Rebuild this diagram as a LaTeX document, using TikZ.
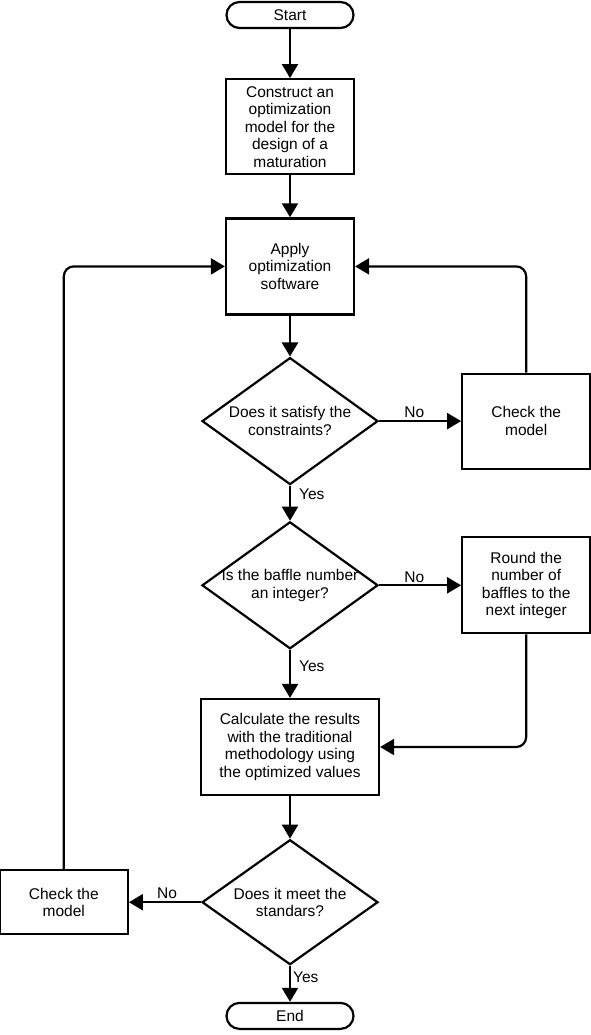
\documentclass[tikz,border=0pt]{standalone}
\usepackage{fontspec}
\setmainfont{Liberation Sans}
\usepackage{tikz}
\usetikzlibrary{arrows.meta,positioning,shapes.geometric}
\definecolor{fcedge}{RGB}{0,0,0}
\newcommand{\fcfont}{\fontsize{15.5}{17.5}\selectfont}
\tikzset{
  fcbox/.style={
    draw=fcedge, line width=2.2pt, align=center, inner sep=2pt,
    font=\fcfont
  },
  term/.style={fcbox, rounded corners=13pt, minimum width=127pt, minimum height=26pt},
  proc/.style={fcbox, minimum width=128pt, minimum height=95pt},
  dec/.style={fcbox, diamond, minimum width=176pt, minimum height=127pt, inner sep=0pt},
  dlab/.style={align=center, font=\fcfont, inner sep=0pt},
  arr/.style={-{Triangle[length=14pt,width=16pt]}, draw=fcedge, line width=2.2pt},
  lab/.style={font=\fcfont, inner sep=2pt}
}

\begin{document}
\begin{tikzpicture}[x=1pt,y=1pt]
  \useasboundingbox (-290,15) rectangle (301,-1020);
  \node[term] (start) at (0,0) {Start};
  \node[proc, below=49pt of start] (cons) {Construct an\\optimization\\model for the\\design of a\\maturation};
  \node[proc, minimum height=96pt, below=42pt of cons] (apply) {Apply\\optimization\\software};
  \node[dec, below=41pt of apply, label={[dlab]center:Does it satisfy the\\constraints?}] (sat) {};
  \node[proc, right=82pt of sat] (chka) {Check the\\model};
  \node[dec, below=35pt of sat, label={[dlab]center:Is the baffle number\\an integer?}] (intg) {};
  \node[proc, minimum height=96pt, right=82pt of intg] (round) {Round the\\number of\\baffles to the\\next integer};
  \node[proc, minimum width=178pt, minimum height=96pt, below=48pt of intg] (calc) {Calculate the results\\with the traditional\\methodology using\\the optimized values};
  \node[dec, minimum height=125pt, below=42.5pt of calc, label={[dlab]center:Does it meet the\\standars?}] (std) {};
  \node[proc, minimum height=64pt, left=72pt of std] (chkb) {Check the\\model};
  \node[term, below=36pt of std] (stop) {End};

  \draw[arr] (start) -- (cons);
  \draw[arr] (cons) -- (apply);
  \draw[arr] (apply) -- (sat);
  \draw[arr] (sat) -- node[lab, above, pos=0.43] {No} (chka);
  \draw[arr] (sat) -- node[lab, right, pos=0.25, xshift=6pt] {Yes} (intg);
  \draw[arr] (intg) -- node[lab, above, pos=0.43] {No} (round);
  \draw[arr] (intg) -- node[lab, right, pos=0.33, xshift=6pt] {Yes} (calc);
  \draw[arr, rounded corners=10pt] (round.south) |- (calc.east);
  \draw[arr] (calc) -- (std);
  \draw[arr] (std) -- node[lab, above, pos=0.47] {No} (chkb);
  \draw[arr] (std) -- node[lab, right, pos=0.32] {Yes} (stop);
  \draw[arr, rounded corners=10pt] (chka.north) |- (apply.east);
  \draw[arr, rounded corners=10pt] (chkb.north) |- (apply.west);
\end{tikzpicture}
\end{document}
